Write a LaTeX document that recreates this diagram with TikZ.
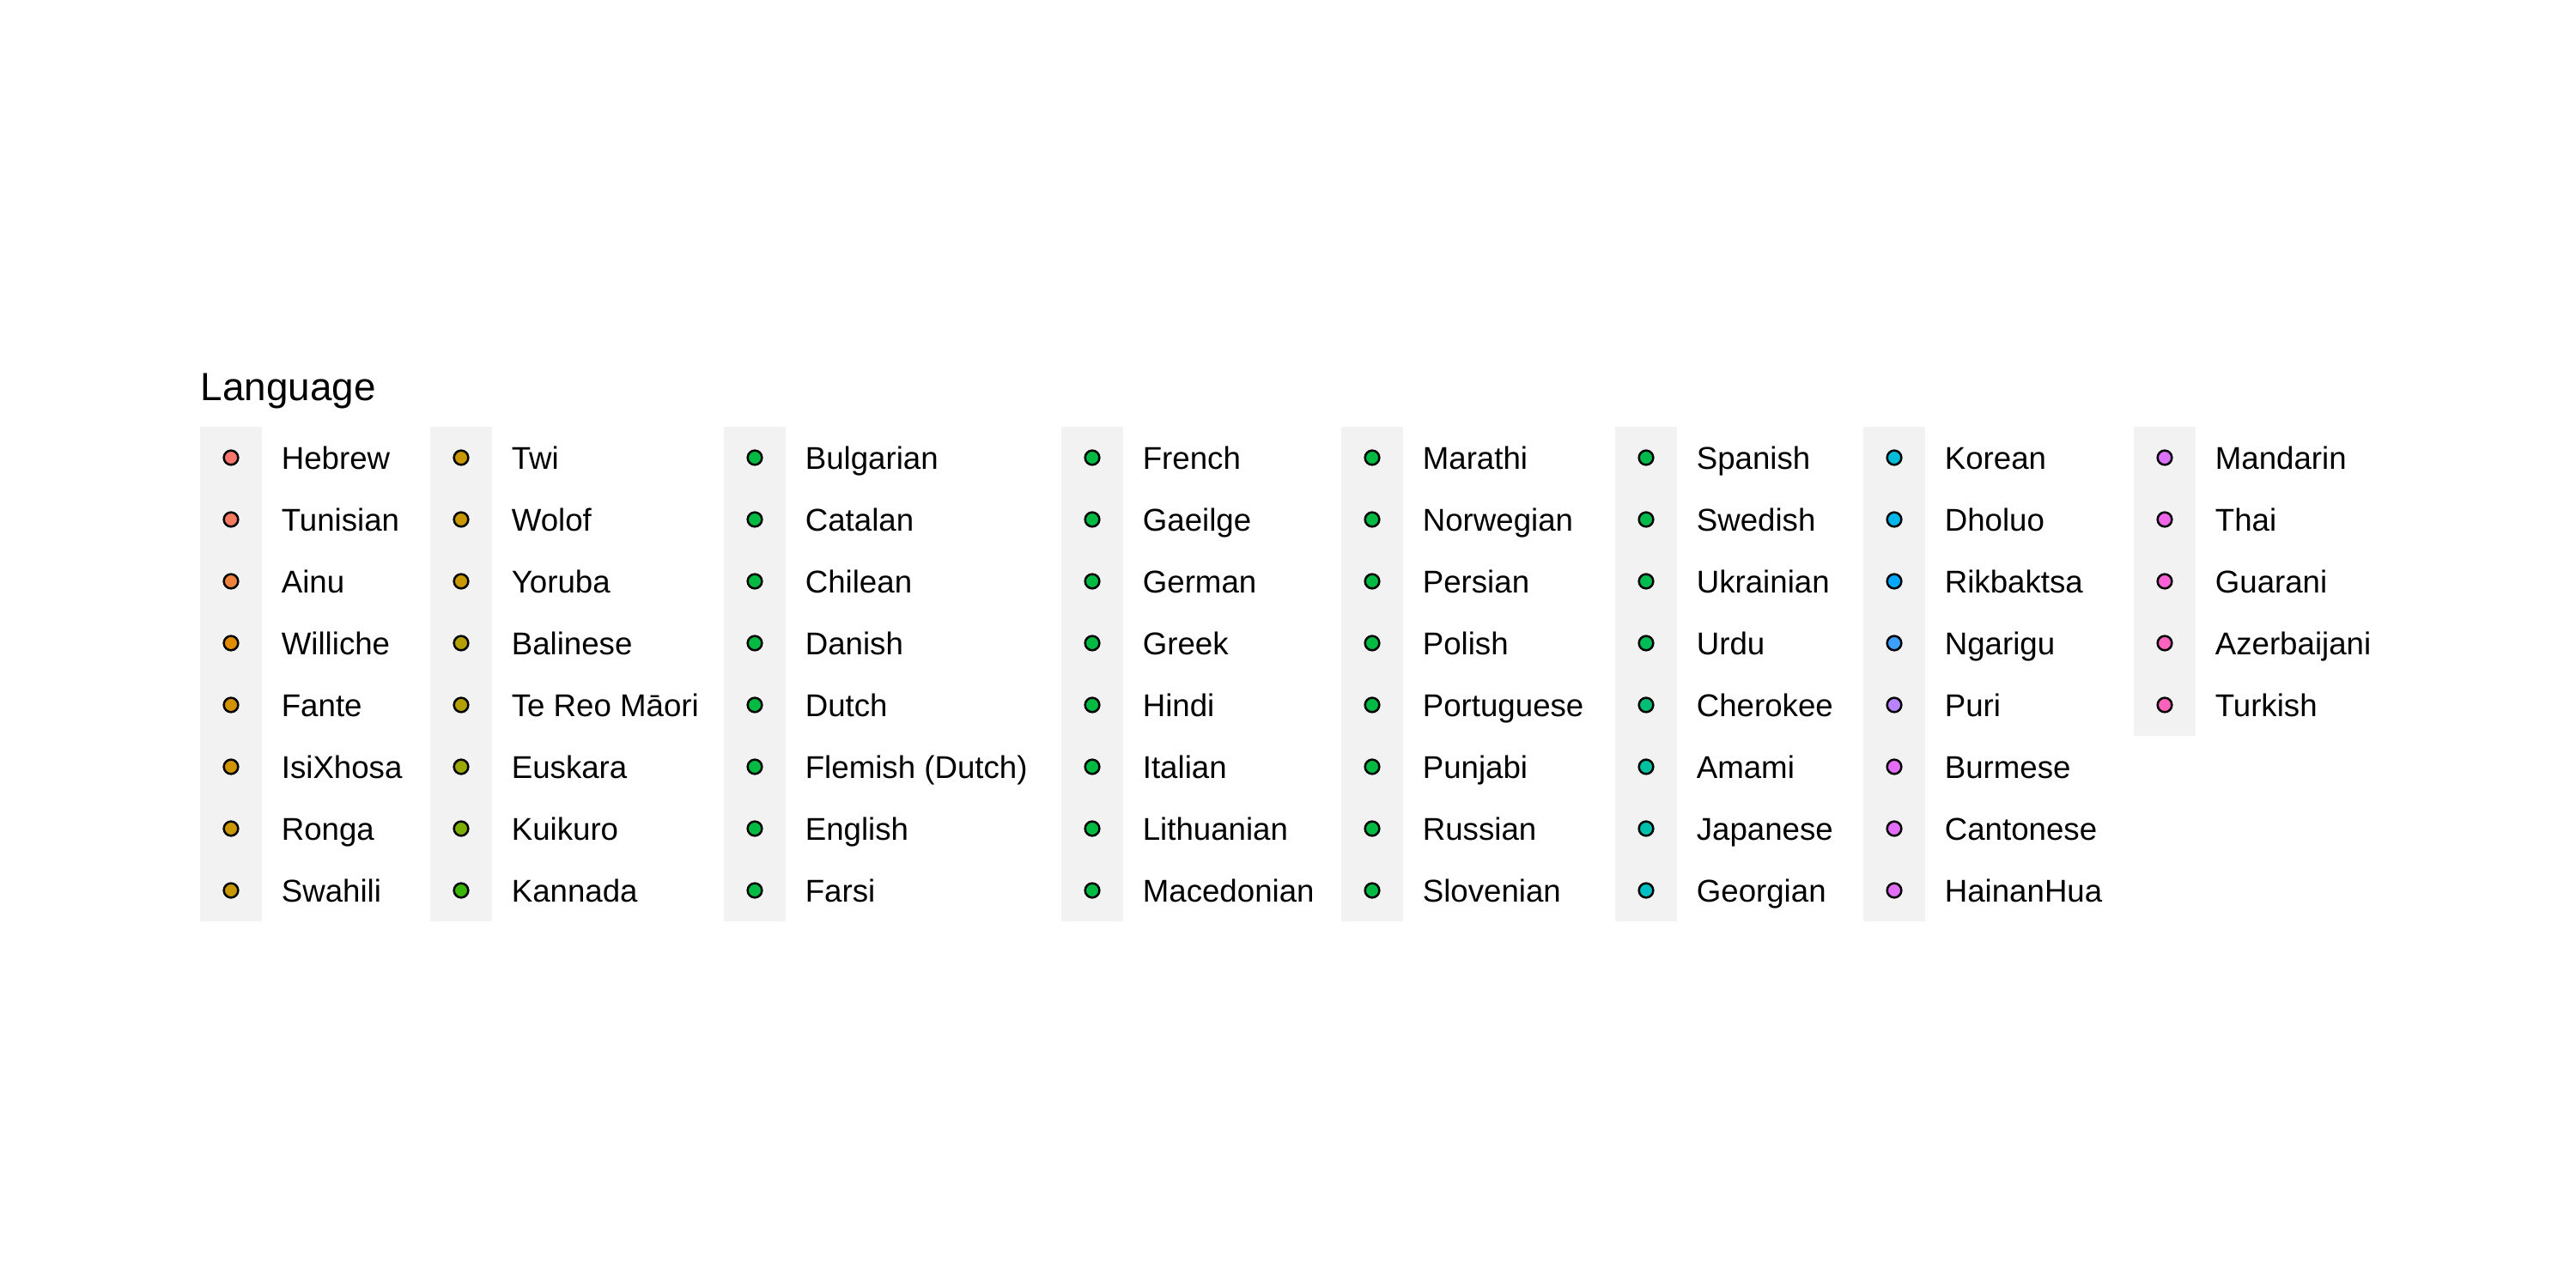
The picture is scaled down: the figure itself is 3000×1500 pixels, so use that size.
\documentclass[tikz,border=0pt]{standalone}
\usepackage{fontspec}
\setmainfont{Liberation Sans}
\tikzset{
  keybg/.style={fill={rgb,255:red,242;green,242;blue,242}},
  dot/.style={circle, draw=black, line width=0.6pt, inner sep=0pt, minimum size=4.0pt},
  lab/.style={anchor=base west, inner sep=0pt, font=\fontsize{8.8}{10}\selectfont},
  ttl/.style={anchor=base west, inner sep=0pt, font=\fontsize{11}{13}\selectfont}
}
\newcommand\legcol[3]{%
  \foreach \lab/\hex [count=\r] in {#3} {
    \definecolor{tmpc}{HTML}{\hex}
    \fill[keybg] (#2, {497+72*(\r-1)}) rectangle ++(72,72);
    \node[dot, fill=tmpc] (d#1-\r) at (#2+36, {533+72*(\r-1)}) {};
    \node[lab] (t#1-\r) at (#2+94, {546.5+72*(\r-1)}) {\lab};
  }}
\begin{document}
\begin{tikzpicture}[x=0.24pt, y=-0.24pt]
\useasboundingbox (0,0) rectangle (3000,1500);
\fill[white] (0,0) rectangle (3000,1500);
\node[ttl] (title) at (233,467) {Language};
\legcol{1}{233}{Hebrew/F8766D,Tunisian/F57A5F,Ainu/EC823C,Williche/E08B00,Fante/D39200,IsiXhosa/CF9400,Ronga/C99800,Swahili/C99800}
\legcol{2}{501}{Twi/C99800,Wolof/C99800,Yoruba/C99800,Balinese/B4A000,Te Reo Māori/B3A000,Euskara/9AA800,Kuikuro/7CAE00,Kannada/39B600}
\legcol{3}{843}{Bulgarian/00BA42,Catalan/00BA42,Chilean/00BA42,Danish/00BA42,Dutch/00BA42,Flemish (Dutch)/00BA42,English/00BA42,Farsi/00BA42}
\legcol{4}{1236}{French/00BA42,Gaeilge/00BA42,German/00BA42,Greek/00BA42,Hindi/00BA42,Italian/00BA42,Lithuanian/00BA42,Macedonian/00BA42}
\legcol{5}{1562}{Marathi/00BA42,Norwegian/00BA42,Persian/00BA42,Polish/00BA42,Portuguese/00BA42,Punjabi/00BA42,Russian/00BA42,Slovenian/00BA42}
\legcol{6}{1881}{Spanish/00BB4B,Swedish/00BB4B,Ukrainian/00BB4E,Urdu/00BC56,Cherokee/00BE75,Amami/00C0A0,Japanese/00C0AC,Georgian/00BFC4}
\legcol{7}{2170}{Korean/00BCD8,Dholuo/00B6EB,Rikbaktsa/00A9FF,Ngarigu/3CA0FF,Puri/B983FF,Burmese/E56DF5,Cantonese/E26EF7,HainanHua/E26EF7}
\legcol{8}{2485}{Mandarin/DB72FB,Thai/F066EA,Guarani/FB61D7,Azerbaijani/FF63C0,Turkish/FF62BC}
\end{tikzpicture}
\end{document}
